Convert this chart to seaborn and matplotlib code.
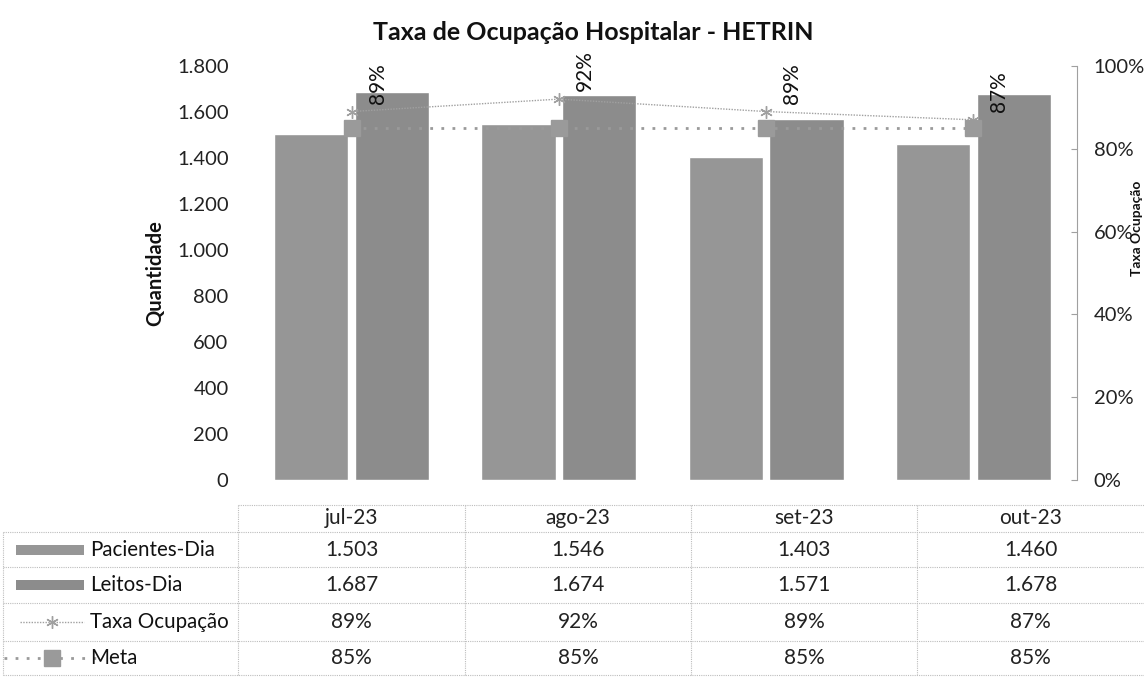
import numpy as np
import pandas as pd
import matplotlib.pyplot as plt
import matplotlib.ticker as mticker
import seaborn as sns
from matplotlib.patches import Rectangle

meses = ["jul-23", "ago-23", "set-23", "out-23"]
pacientes_dia = [1503, 1546, 1403, 1460]
leitos_dia = [1687, 1674, 1571, 1678]
taxa_ocupacao = [0.89, 0.92, 0.89, 0.87]
meta = [0.85, 0.85, 0.85, 0.85]

sns.set_style("white")
plt.rcParams["font.family"] = ["Lato", "DejaVu Sans"]

df = pd.DataFrame({
    "mes": meses * 2,
    "valor": pacientes_dia + leitos_dia,
    "serie": ["Pacientes-Dia"] * len(meses) + ["Leitos-Dia"] * len(meses),
})

W, H = 1144, 678
fig = plt.figure(figsize=(W / 100, H / 100), dpi=100)
ax = fig.add_axes([248 / W, 1 - 480 / H, 829 / W, 414 / H])

cor_pac = "#969696"
cor_lei = "#8c8c8c"
sns.barplot(data=df, x="mes", y="valor", hue="serie",
            palette=[cor_pac, cor_lei], width=0.78, gap=0.08,
            saturation=1, legend=False, ax=ax)
ax.set_ylim(0, 1800)
ax.set_xlim(-0.5, len(meses) - 0.5)
ax.yaxis.set_major_locator(mticker.MultipleLocator(200))
ax.yaxis.set_major_formatter(
    mticker.FuncFormatter(lambda v, p: f"{int(v):,}".replace(",", ".")))
ax.set_xticks([])
ax.set_xlabel("")
ax.set_ylabel("Quantidade", fontsize=14.5, fontweight="bold", color="#111")
ax.yaxis.set_label_coords(-0.100, 0.5)
for s in ax.spines.values():
    s.set_visible(False)
ax.tick_params(axis="y", length=0, pad=14, labelsize=14.5, labelcolor="#222")

# eixo secundario: taxa e meta
ax2 = ax.twinx()
x = np.arange(len(meses))
ax2.plot(x, taxa_ocupacao, color="#a0a0a0", lw=1, ls=(0, (1, 1)),
         marker=(6, 2, 0), ms=9, mew=1)
ax2.plot(x, meta, color="#9a9a9a", lw=2, ls=(0, (1, 3)),
         marker="s", ms=12)
for xi, v in zip(x, taxa_ocupacao):
    ax2.annotate(f"{v:.0%}", (xi, v), xytext=(26, 8), textcoords="offset pixels",
                 rotation=90, ha="center", va="bottom", fontsize=15, color="#111")
ax2.set_ylim(0, 1)
ax2.yaxis.set_major_locator(mticker.MultipleLocator(0.2))
ax2.yaxis.set_major_formatter(mticker.PercentFormatter(1.0, decimals=0))
for k, s in ax2.spines.items():
    s.set_visible(k == "right")
ax2.spines["right"].set_color("#a0a0a0")
ax2.spines["right"].set_linewidth(0.8)
ax2.tick_params(axis="y", direction="in", length=4, color="#a0a0a0",
                pad=12, labelsize=14.5, labelcolor="#222")

fig.text(593 / W, 1 - 33 / H, "Taxa de Ocupação Hospitalar - HETRIN",
         ha="center", va="center", fontsize=18, fontweight="bold", color="#111")
fig.text(1143 / W, 1 - 228 / H, "Taxa Ocupação", rotation=90,
         ha="right", va="center", fontsize=10, fontweight="bold", color="#111")

# tabela de dados
tax = fig.add_axes([0, 0, 1, 1])
tax.set_xlim(0, W)
tax.set_ylim(H, 0)
tax.axis("off")
tax.patch.set_visible(False)

linhas_y = [505, 532, 567, 603, 641, 675]
colunas_x = [238, 465, 691, 917, 1144]
grid_kw = dict(color="#bdbdbd", lw=0.8, ls=(0, (1, 1)))
tax.plot([colunas_x[0], W], [linhas_y[0]] * 2, **grid_kw)
for yy in linhas_y[1:]:
    tax.plot([3, W], [yy, yy], **grid_kw)
tax.plot([3, 3], [linhas_y[1], linhas_y[-1]], **grid_kw)
for xx in colunas_x[:-1]:
    tax.plot([xx, xx], [linhas_y[0], linhas_y[-1]], **grid_kw)

centros_x = [(a + b) / 2 for a, b in zip(colunas_x[:-1], colunas_x[1:])]
centros_y = [(a + b) / 2 for a, b in zip(linhas_y[:-1], linhas_y[1:])]

txt_kw = dict(ha="center", va="center", fontsize=15, color="#222")
linhas_tabela = [
    meses,
    [f"{v:,}".replace(",", ".") for v in pacientes_dia],
    [f"{v:,}".replace(",", ".") for v in leitos_dia],
    [f"{v:.0%}" for v in taxa_ocupacao],
    [f"{v:.0%}" for v in meta],
]
for cy, valores in zip(centros_y, linhas_tabela):
    for cx, t in zip(centros_x, valores):
        tax.text(cx, cy, t, **txt_kw)

nomes = ["Pacientes-Dia", "Leitos-Dia", "Taxa Ocupação", "Meta"]
for cy, nome in zip(centros_y[1:], nomes):
    tax.text(90, cy, nome, ha="left", va="center", fontsize=14.8, color="#111")

tax.add_patch(Rectangle((16, centros_y[1] - 5), 68, 10, color=cor_pac, lw=0))
tax.add_patch(Rectangle((16, centros_y[2] - 5), 68, 10, color=cor_lei, lw=0))
tax.plot([20, 84], [centros_y[3]] * 2, color="#a0a0a0", lw=1, ls=(0, (1, 1)))
tax.plot([52], [centros_y[3]], color="#a0a0a0", marker=(6, 2, 0), ms=9, mew=1)
tax.plot([4, 96], [centros_y[4]] * 2, color="#9a9a9a", lw=2, ls=(0, (1, 3)))
tax.plot([52], [centros_y[4]], color="#9a9a9a", marker="s", ms=11)

fig.savefig("out.png", dpi=100)
